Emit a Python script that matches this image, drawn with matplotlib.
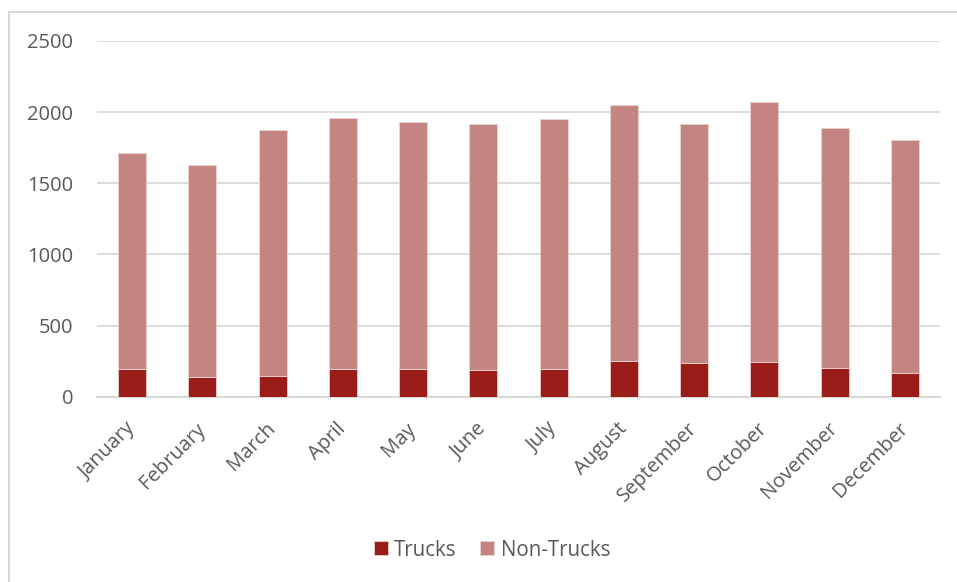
import numpy as np
import matplotlib.pyplot as plt
from matplotlib.patches import Rectangle

DARK  = '#9B1D1A'
LIGHT = '#C58583'
GRID  = '#D9D9D9'
TEXT  = '#595959'

plt.rcParams.update({
    'font.family': ['Open Sans', 'DejaVu Sans'],
    'font.size': 15,
})

months = ['January', 'February', 'March', 'April', 'May', 'June', 'July',
          'August', 'September', 'October', 'November', 'December']
trucks     = [197, 140, 147, 197, 197, 190, 197, 253, 237, 246, 199, 168]
non_trucks = [1516, 1487, 1730, 1761, 1733, 1729, 1752, 1799, 1682, 1828, 1692, 1636]
y_ticks = [0, 500, 1000, 1500, 2000, 2500]

W, H = 957, 582
fig = plt.figure(figsize=(W / 100, H / 100), dpi=100)

# chart frame (runs off the right and bottom edges)
fig.patches.append(Rectangle((9 / W, -0.1), 1.2, 1.1 - 12 / H,
                             transform=fig.transFigure, fill=False,
                             edgecolor=GRID, lw=1.5))

ax = fig.add_axes([97 / W, (H - 396.7) / H, (940 - 97) / W, (396.7 - 41) / H])
x = np.arange(len(months))
ax.bar(x, trucks, width=0.4, color=DARK, edgecolor='#E8CFCE', lw=0.6,
       label='Trucks', zorder=3)
ax.bar(x, non_trucks, width=0.4, bottom=trucks, color=LIGHT,
       edgecolor='#EAD3D2', lw=0.6, label='Non-Trucks', zorder=3)

ax.set_xlim(-0.5, len(months) - 0.5)
ax.set_ylim(0, 2500)
ax.set_yticks(y_ticks)
ax.yaxis.grid(True, color=GRID, lw=1.3)
ax.set_axisbelow(True)
for side in ['top', 'right', 'left']:
    ax.spines[side].set_visible(False)
ax.spines['bottom'].set_color(GRID)
ax.spines['bottom'].set_linewidth(1.5)
ax.tick_params(axis='both', length=0, colors=TEXT, labelsize=14.5)
ax.tick_params(axis='y', pad=17)
ax.set_xticks(x)
ax.set_xticklabels(months, rotation=45, ha='right', va='center',
                   rotation_mode='anchor')
ax.tick_params(axis='x', pad=21)

fig.legend(loc='center', bbox_to_anchor=(492 / W, (H - 550) / H), ncol=2,
           frameon=False, fontsize=14.8, labelcolor=TEXT, handlelength=0.68,
           handleheight=0.68, handletextpad=0.3, columnspacing=1.15)

fig.savefig('out.png', dpi=100)
